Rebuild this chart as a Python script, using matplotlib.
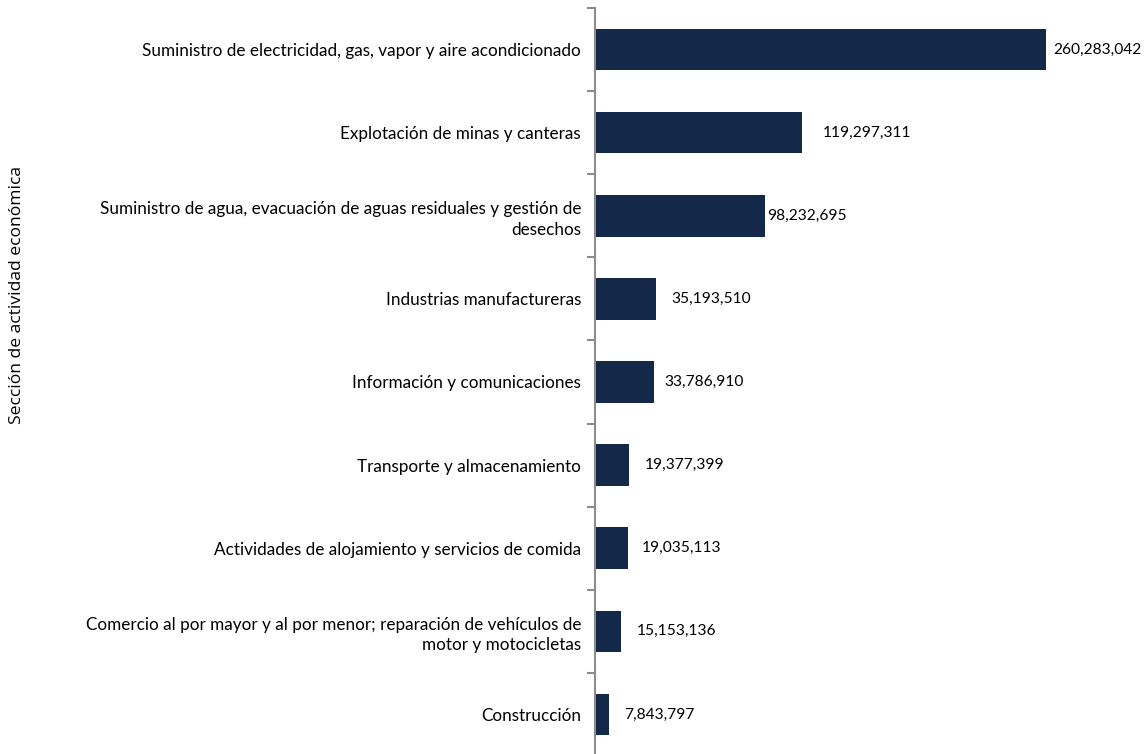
import matplotlib.pyplot as plt
import numpy as np

# Categories (top to bottom) and values
categorias = [
    "Suministro de electricidad, gas, vapor y aire acondicionado",
    "Explotación de minas y canteras",
    "Suministro de agua, evacuación de aguas residuales y gestión de\ndesechos",
    "Industrias manufactureras",
    "Información y comunicaciones",
    "Transporte y almacenamiento",
    "Actividades de alojamiento y servicios de comida",
    "Comercio al por mayor y al por menor; reparación de vehículos de\nmotor y motocicletas",
    "Construcción",
]
valores = [260283042, 119297311, 98232695, 35193510, 33786910,
           19377399, 19035113, 15153136, 7843797]
# label offsets (points) to mimic the original placement
desplaz = [5, 15, 1.5, 11, 8, 12, 10, 11, 11]

W, H = 1146, 754
fig = plt.figure(figsize=(W / 100, H / 100), dpi=100)
ax = fig.add_axes([595 / W, 1 - 756 / H, (W - 595) / W, (756 - 8) / H])

y = np.arange(len(categorias))
ax.barh(y, valores, height=0.5, color="#14284a")
ax.set_ylim(len(categorias) - 0.5, -0.5)
ax.set_xlim(0, (W - 595) / 451 * 260283042)

ax.set_yticks(y)
ax.set_yticklabels(categorias, fontsize=12.3, family="Lato", ha="right",
                   multialignment="right", linespacing=1.35)
ax.tick_params(axis="y", which="major", length=0, pad=10)
ax.set_yticks(np.arange(-0.5, len(categorias)), minor=True)
ax.tick_params(axis="y", which="minor", length=6, width=1.5, color="#8c8c8c")

ax.set_xticks([])
for s in ["top", "right", "bottom"]:
    ax.spines[s].set_visible(False)
ax.spines["left"].set_color("#8c8c8c")
ax.spines["left"].set_linewidth(1.5)

for yi, v, d in zip(y, valores, desplaz):
    ax.annotate(f"{v:,}", (v, yi), xytext=(d, 0), textcoords="offset points",
                va="center", ha="left", fontsize=11.2, family="Lato")

fig.text(17 / W, 1 - 295 / H, "Sección de actividad económica", rotation=90,
         ha="center", va="center", fontsize=12.6, family="Open Sans")

fig.savefig("out.png", dpi=100)
